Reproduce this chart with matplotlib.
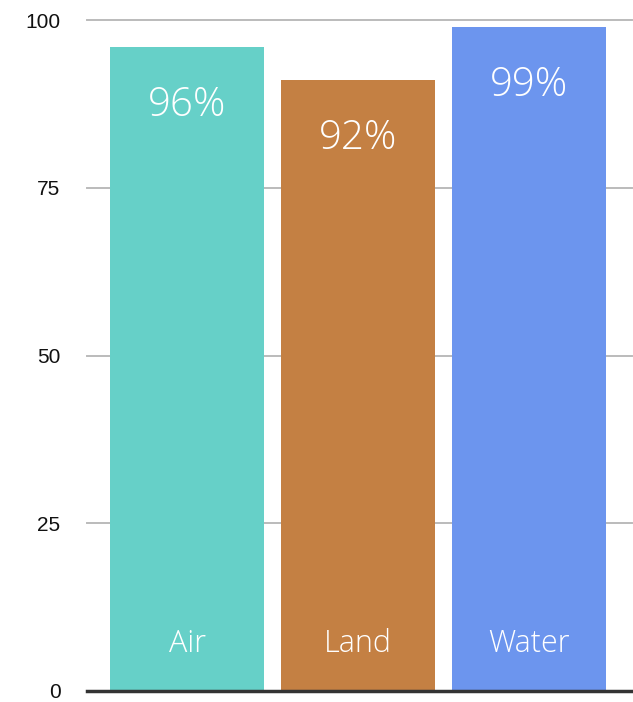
import matplotlib.pyplot as plt

# Данные графика
categories = ['Air', 'Land', 'Water']
heights = [96, 91, 99]
pct_labels = ['96%', '92%', '99%']
colors = ['#66D0C8', '#C48043', '#6C95EE']
y_ticks = [0, 25, 50, 75, 100]

W, H = 633, 702
fig = plt.figure(figsize=(W / 100, H / 100), dpi=100)
ax = fig.add_axes([87 / W, 11 / H, 545 / W, 671 / H])

x = range(len(categories))
ax.bar(x, heights, width=0.9, color=colors, zorder=2)

ax.set_xlim(-0.585, 2.6)
ax.set_ylim(0, 100)
ax.set_yticks(y_ticks)
ax.set_yticklabels([str(v) for v in y_ticks], fontsize=15, family='Liberation Sans', color='#111111')
ax.set_xticks([])
ax.tick_params(axis='y', length=0, pad=19)

# Сетка
ax.set_axisbelow(True)
ax.yaxis.grid(True, color='#BBBBBB', linewidth=1.4)
for gl in ax.get_ygridlines():
    gl.set_clip_on(False)

for side in ['top', 'right', 'left']:
    ax.spines[side].set_visible(False)
ax.spines['bottom'].set_color('#333333')
ax.spines['bottom'].set_linewidth(2.5)
ax.spines['bottom'].set_zorder(3)

# Подписи на столбцах
font = dict(family=['Open Sans', 'DejaVu Sans'], weight=300, color='white')
for i, (h, lab, cat) in enumerate(zip(heights, pct_labels, categories)):
    ax.text(i, h - 8.7, lab, ha='center', va='center', fontsize=29, zorder=4, **font)
    ax.text(i, 7, cat, ha='center', va='center', fontsize=22, zorder=4, **font)

fig.savefig('out.png', dpi=100)
